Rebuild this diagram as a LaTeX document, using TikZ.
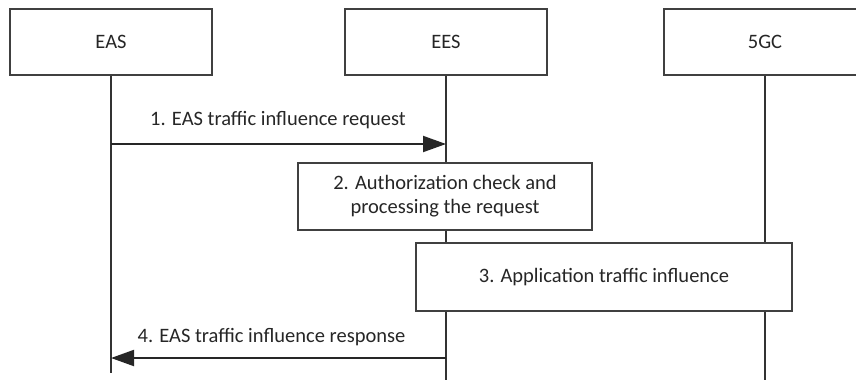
\documentclass[tikz,border=0pt]{standalone}
\usepackage{fontspec}
\setmainfont{Carlito}
\usetikzlibrary{arrows.meta}
\begin{document}
\begin{tikzpicture}[x=1bp,y=-1bp,
  ent/.style={draw=black!75,line width=1.2bp,minimum width=202bp,minimum height=66bp,inner sep=0pt,text=black!85,font=\fontsize{20.5bp}{24bp}\selectfont},
  actbox/.style={draw=black!75,line width=1.2bp,fill=white,inner sep=0pt,align=center,text=black!85,font=\fontsize{20.5bp}{24bp}\selectfont},
  life/.style={draw=black!80,line width=2bp},
  msg/.style={draw=black!85,line width=2bp,-{Triangle[length=23bp,width=16bp]}},
  lbl/.style={text=black!85,font=\fontsize{20.5bp}{24bp}\selectfont,inner sep=0pt}]
\useasboundingbox (0,0) rectangle (856,379);
\begin{scope}
\clip (0,0) rectangle (856,379);
\node[ent] (eas) at (111,42) {EAS};
\node[ent] (ees) at (446,42) {EES};
\node[ent] (gc) at (765,42) {5GC};
\coordinate (easend) at (111,373);
\coordinate (eesend) at (446,380);
\coordinate (gcend) at (765,380);
\draw[life] (eas.south) -- (easend);
\draw[life] (ees.south) -- (eesend);
\draw[life] (gc.south) -- (gcend);
\coordinate (a1s) at (111,144);
\coordinate (a1e) at (446,144);
\draw[msg] (a1s) -- (a1e);
\node[lbl,anchor=base] (l1) at (278,125) {1. EAS traffic influence request};
\node[actbox,minimum width=294bp,minimum height=67bp] (s2) at (445,196.5) {2. Authorization check and\\processing the request};
\node[actbox,minimum width=376bp,minimum height=68bp] (s3) at (604,277) {3. Application traffic influence};
\coordinate (a4s) at (446,358);
\coordinate (a4e) at (111,358);
\draw[msg] (a4s) -- (a4e);
\node[lbl,anchor=base] (l4) at (271.5,342) {4. EAS traffic influence response};
\end{scope}
\end{tikzpicture}
\end{document}
